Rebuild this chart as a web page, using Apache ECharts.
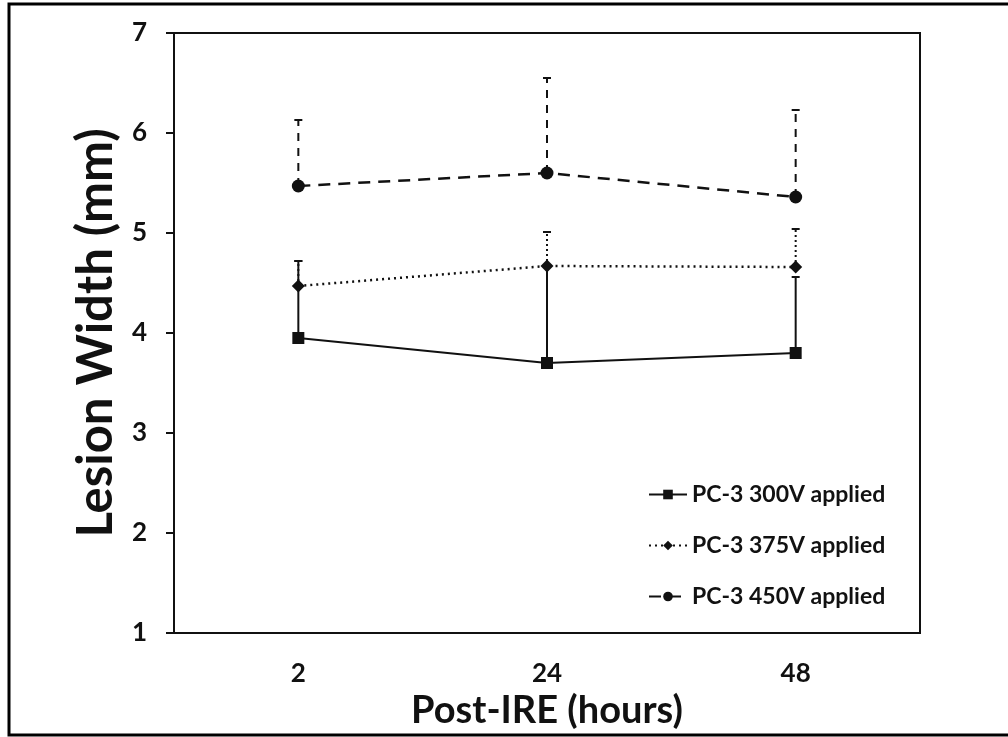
<!DOCTYPE html>
<html>
<head>
<meta charset="utf-8">
<script src="https://cdn.jsdelivr.net/npm/echarts@6/dist/echarts.min.js"></script>
<style>
  html, body { margin: 0; padding: 0; background: #fff; }
  #chart { width: 1008px; height: 737px; }
</style>
</head>
<body>
<div id="chart"></div>
<script>
// hours after IRE
const hours = ['2', '24', '48']

// mean lesion width (mm)
const v300 = [3.95, 3.70, 3.80]
const v375 = [4.47, 4.67, 4.66]
const v450 = [5.47, 5.60, 5.36]

// upper error (mm)
const err300 = [0.77, 0.97, 0.76]
const err375 = [0.25, 0.34, 0.38]
const err450 = [0.66, 0.95, 0.87]

const names = ['PC-3 300V applied', 'PC-3 375V applied', 'PC-3 450V applied']

const font = 'Lato, "Open Sans", sans-serif'
const ink = '#111'

function errorSeries(name, means, errs, lineType) {
  return {
    name: name + ' err',
    type: 'custom',
    z: 1,
    data: means.map((m, i) => [i, m, m + errs[i]]),
    renderItem(params, api) {
      const base = api.coord([api.value(0), api.value(1)])
      const top = api.coord([api.value(0), api.value(2)])
      const style = { stroke: ink, lineWidth: 2, lineDash: lineType }
      return {
        type: 'group',
        children: [
          { type: 'line', shape: { x1: base[0], y1: base[1], x2: top[0], y2: top[1] }, style },
          { type: 'line', shape: { x1: top[0] - 4, y1: top[1], x2: top[0] + 4, y2: top[1] }, style: { stroke: ink, lineWidth: 2 } }
        ]
      }
    }
  }
}

const chart = echarts.init(document.getElementById('chart'))

chart.setOption({
  animation: false,
  backgroundColor: '#fff',
  graphic: [{
    type: 'rect',
    shape: { x: 9, y: 4, width: 1010, height: 731 },
    style: { fill: 'none', stroke: '#000', lineWidth: 3 },
    z: -1
  }],
  grid: {
    left: 174,
    top: 33,
    right: 88,
    bottom: 104,
    containLabel: false,
    outerBoundsMode: 'none',
    show: true,
    borderColor: ink,
    borderWidth: 2
  },
  legend: {
    data: names,
    orient: 'vertical',
    left: 648,
    top: 483,
    padding: 0,
    itemGap: 28,
    itemWidth: 38,
    itemHeight: 12,
    textStyle: { fontFamily: font, fontWeight: 'bold', fontSize: 23, color: ink }
  },
  xAxis: {
    type: 'category',
    data: hours,
    name: 'Post-IRE (hours)',
    nameLocation: 'middle',
    nameGap: 58,
    nameTextStyle: { fontFamily: font, fontWeight: 'bold', fontSize: 38, color: ink },
    axisLine: { lineStyle: { color: ink, width: 2 } },
    axisTick: { length: 9, lineStyle: { color: ink, width: 2 } },
    axisLabel: { margin: 28, fontFamily: font, fontWeight: 'bold', fontSize: 26, color: ink }
  },
  yAxis: {
    type: 'value',
    min: 1,
    max: 7,
    interval: 1,
    name: 'Lesion Width (mm)',
    nameLocation: 'middle',
    nameGap: 45,
    nameTextStyle: { fontFamily: font, fontWeight: 'bold', fontSize: 49, color: ink },
    splitLine: { show: false },
    axisLine: { show: true, lineStyle: { color: ink, width: 2 } },
    axisTick: { show: true, length: 8, lineStyle: { color: ink, width: 2 } },
    axisLabel: { margin: 27, fontFamily: font, fontWeight: 'bold', fontSize: 26, color: ink }
  },
  series: [
    errorSeries(names[0], v300, err300, null),
    errorSeries(names[1], v375, err375, [2, 3]),
    errorSeries(names[2], v450, err450, [8, 7]),
    {
      name: names[0],
      type: 'line',
      data: v300,
      symbol: 'rect',
      symbolSize: 12,
      z: 3,
      itemStyle: { color: ink },
      lineStyle: { color: ink, width: 2, type: 'solid' }
    },
    {
      name: names[1],
      type: 'line',
      data: v375,
      symbol: 'diamond',
      symbolSize: 13,
      z: 3,
      itemStyle: { color: ink },
      lineStyle: { color: ink, width: 2.5, type: [2, 4] }
    },
    {
      name: names[2],
      type: 'line',
      data: v450,
      symbol: 'circle',
      symbolSize: 13,
      z: 3,
      itemStyle: { color: ink },
      lineStyle: { color: ink, width: 2.5, type: [12, 8] }
    }
  ]
})
</script>
</body>
</html>
